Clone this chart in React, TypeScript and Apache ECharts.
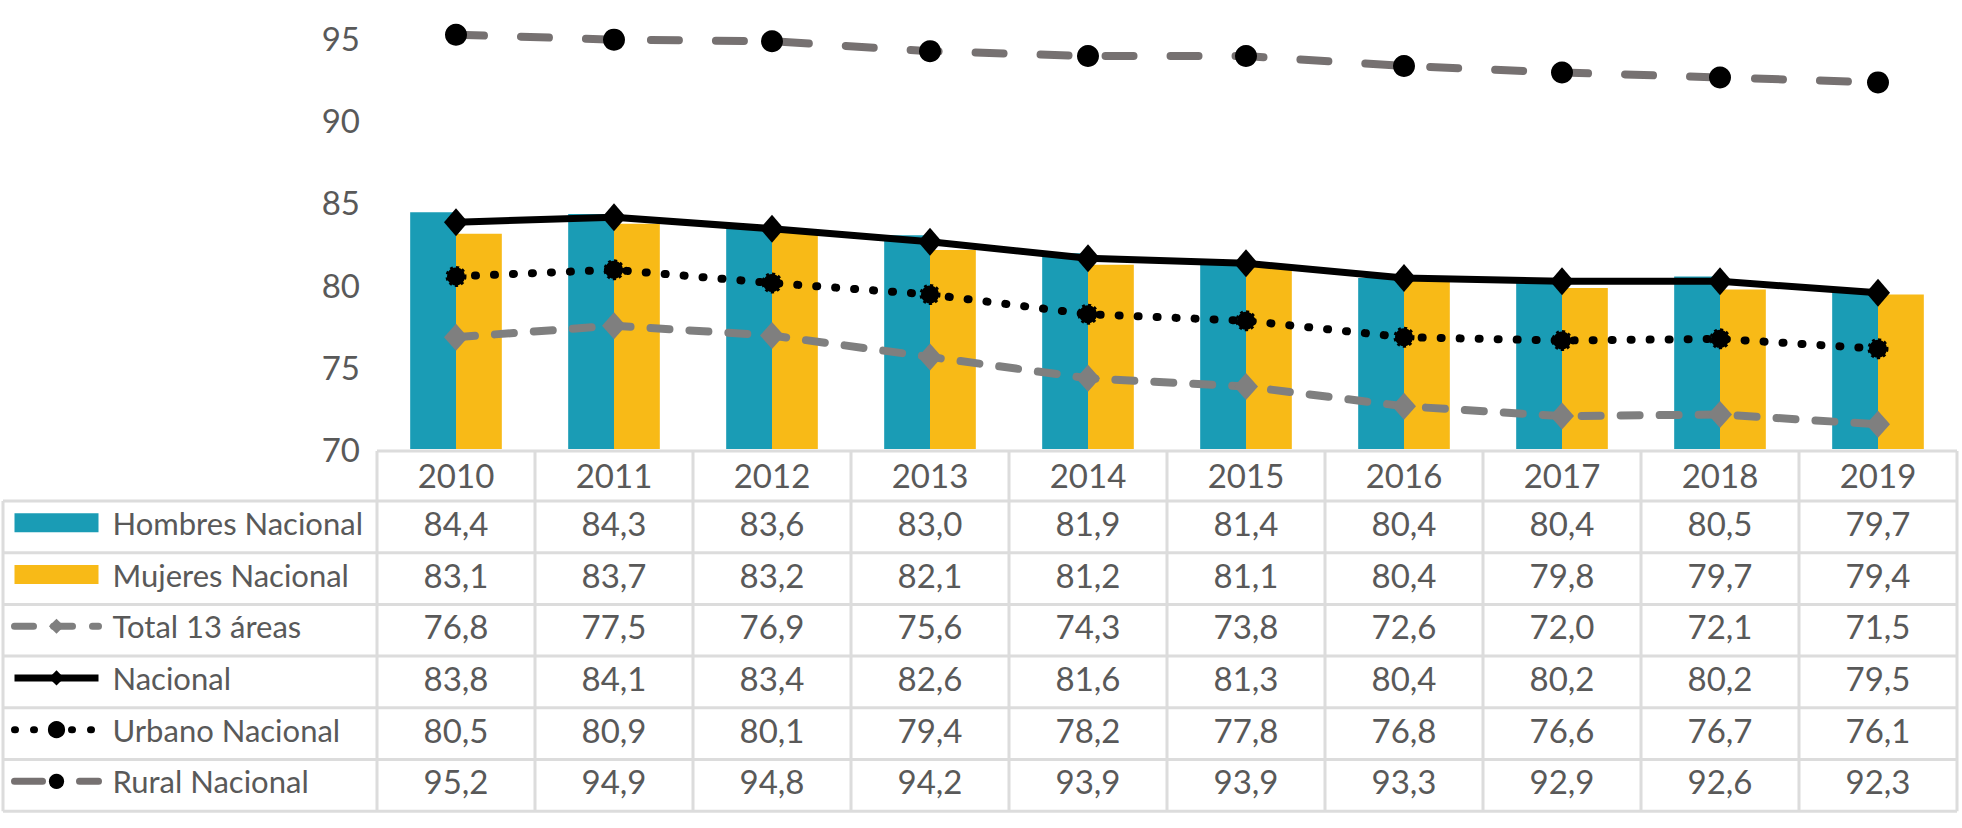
import React, { useEffect, useRef } from "react";
import * as echarts from "echarts";

const years = ["2010", "2011", "2012", "2013", "2014", "2015", "2016", "2017", "2018", "2019"];
const hombresNacional = [84.4, 84.3, 83.6, 83.0, 81.9, 81.4, 80.4, 80.4, 80.5, 79.7];
const mujeresNacional = [83.1, 83.7, 83.2, 82.1, 81.2, 81.1, 80.4, 79.8, 79.7, 79.4];
const total13Areas = [76.8, 77.5, 76.9, 75.6, 74.3, 73.8, 72.6, 72.0, 72.1, 71.5];
const nacional = [83.8, 84.1, 83.4, 82.6, 81.6, 81.3, 80.4, 80.2, 80.2, 79.5];
const urbanoNacional = [80.5, 80.9, 80.1, 79.4, 78.2, 77.8, 76.8, 76.6, 76.7, 76.1];
const ruralNacional = [95.2, 94.9, 94.8, 94.2, 93.9, 93.9, 93.3, 92.9, 92.6, 92.3];
const seriesNames = [
  "Hombres Nacional",
  "Mujeres Nacional",
  "Total 13 áreas",
  "Nacional",
  "Urbano Nacional",
  "Rural Nacional",
];
const yMin = 70;
const yMax = 95;
const yInterval = 5;

const FONT = "Lato";
const TEXT = "#595959";
const BORDER = "#DCDCDC";
const TEAL = "#1A9CB5";
const GOLD = "#F8BA17";

export default function App() {
  const ref = useRef<HTMLDivElement>(null);

  useEffect(() => {
    document.body.style.margin = "0";
    if (!ref.current) return;
    const chart = echarts.init(ref.current, undefined, { renderer: "svg" });

    const W = 1962;
    const H = 828;
    const gridLeft = 377;
    const gridRight = 1957;
    const gridTop = 38;
    const gridBottomY = 449;
    const headerTop = 451;
    const rowTop = 501;
    const rowH = 51.7;
    const colW = (gridRight - gridLeft) / years.length;
    const tableLeft = 3;

    const rows = [hombresNacional, mujeresNacional, total13Areas, nacional, urbanoNacional, ruralNacional];
    const fmt = (v: number) => v.toFixed(1).replace(".", ",");

    const graphic: any[] = [];
    const lineStyle = { stroke: BORDER, lineWidth: 3 };
    graphic.push({ type: "line", shape: { x1: gridLeft, y1: headerTop, x2: gridRight, y2: headerTop }, style: lineStyle, z: 1 });
    for (let k = 0; k <= rows.length; k++) {
      const y = rowTop + k * rowH;
      graphic.push({ type: "line", shape: { x1: tableLeft, y1: y, x2: gridRight, y2: y }, style: lineStyle, z: 1 });
    }
    const tableBottom = rowTop + rows.length * rowH;
    for (let i = 0; i <= years.length; i++) {
      const x = gridLeft + i * colW;
      graphic.push({ type: "line", shape: { x1: x, y1: headerTop, x2: x, y2: tableBottom }, style: lineStyle, z: 1 });
    }
    graphic.push({ type: "line", shape: { x1: tableLeft, y1: rowTop, x2: tableLeft, y2: tableBottom }, style: lineStyle, z: 1 });
    rows.forEach((vals, r) => {
      vals.forEach((v, i) => {
        graphic.push({
          type: "text",
          x: gridLeft + (i + 0.5) * colW,
          y: rowTop + (r + 0.5) * rowH - 4,
          style: {
            text: fmt(v),
            fill: TEXT,
            font: `33px ${FONT}`,
            align: "center",
            verticalAlign: "middle",
          },
          z: 5,
        });
      });
    });

    const legendLine = { width: 7 };

    chart.setOption({
      animation: false,
      backgroundColor: "#ffffff",
      textStyle: { fontFamily: FONT },
      grid: {
        left: gridLeft,
        right: W - gridRight,
        top: gridTop,
        bottom: H - gridBottomY,
        containLabel: false,
      },
      legend: {
        orient: "vertical",
        left: 6,
        top: rowTop + rowH / 2 - 17 - 4 - 5,
        itemGap: rowH - 34,
        itemWidth: 84,
        itemHeight: 19,
        selectedMode: false,
        textStyle: { fontSize: 31, color: TEXT, fontFamily: FONT, lineHeight: 34, padding: [0, 0, 0, 9] },
        data: [
          { name: seriesNames[0], icon: "rect" },
          { name: seriesNames[1], icon: "rect" },
          { name: seriesNames[2], lineStyle: legendLine },
          { name: seriesNames[3], lineStyle: legendLine },
          { name: seriesNames[4], lineStyle: legendLine },
          { name: seriesNames[5], lineStyle: legendLine },
        ],
      },
      xAxis: {
        type: "category",
        data: years,
        axisLine: { show: false },
        axisTick: { show: false },
        axisLabel: { fontSize: 33, color: TEXT, fontFamily: FONT, margin: 10, lineHeight: 32 },
      },
      yAxis: {
        type: "value",
        min: yMin,
        max: yMax,
        interval: yInterval,
        splitLine: { show: false },
        axisLine: { show: false },
        axisTick: { show: false },
        axisLabel: { fontSize: 33, color: TEXT, fontFamily: FONT, margin: 17 },
      },
      graphic,
      series: [
        {
          name: seriesNames[0],
          type: "bar",
          data: hombresNacional,
          itemStyle: { color: TEAL },
          barGap: "0%",
          barCategoryGap: "42%",
        },
        {
          name: seriesNames[1],
          type: "bar",
          data: mujeresNacional,
          itemStyle: { color: GOLD },
          barGap: "0%",
          barCategoryGap: "42%",
        },
        {
          name: seriesNames[2],
          type: "line",
          data: total13Areas,
          clip: false,
          symbol: "diamond",
          symbolSize: [24, 27],
          itemStyle: { color: "#7F7F7F" },
          lineStyle: { color: "#7F7F7F", width: 8, type: [19, 20], cap: "round" },
        },
        {
          name: seriesNames[3],
          type: "line",
          data: nacional,
          clip: false,
          symbol: "diamond",
          symbolSize: [24, 28],
          itemStyle: { color: "#000000" },
          lineStyle: { color: "#000000", width: 7 },
        },
        {
          name: seriesNames[4],
          type: "line",
          data: urbanoNacional,
          clip: false,
          symbol: "circle",
          symbolSize: 18,
          itemStyle: { color: "#000000", borderColor: "#000000", borderWidth: 3, borderType: "dotted" },
          lineStyle: { color: "#000000", width: 8, type: [1, 18], cap: "round" },
        },
        {
          name: seriesNames[5],
          type: "line",
          data: ruralNacional,
          clip: false,
          symbol: "circle",
          symbolSize: 22,
          itemStyle: { color: "#000000" },
          lineStyle: { color: "#767171", width: 8, type: [28, 37], cap: "round" },
        },
      ],
    });

    return () => chart.dispose();
  }, []);

  return <div ref={ref} style={{ width: 1962, height: 828 }} />;
}
